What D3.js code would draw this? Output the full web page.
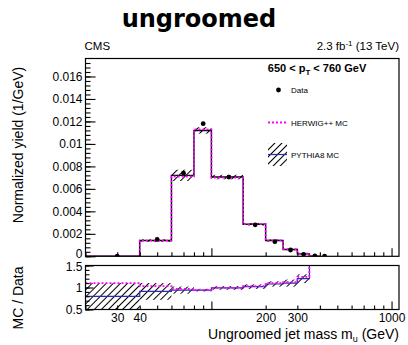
<!DOCTYPE html>
<html>
<head>
<meta charset="utf-8">
<script src="https://cdn.jsdelivr.net/npm/d3@7"></script>
<style>
  body { margin: 0; background: #fff; }
  text { font-family: "Liberation Sans", Arial, sans-serif; }
</style>
</head>
<body>
<div id="chart"></div>
<script>
// bin edges (GeV)
const binEdges = [20, 40, 60, 80, 100, 150, 200, 250, 300, 350, 400, 450];
// normalized yield, data points per bin
const dataYield = [0.00001, 0.0015, 0.0074, 0.0118, 0.00705, 0.0028, 0.0013, 0.00056, 0.00018, 0.00003, 0.00001];
const dataErr   = [0, 0.00005, 0.0001, 0.00012, 0.00008, 0.00005, 0.00004, 0.00003, 0.00002, 0.00001, 0];
// MC histograms (bins 20..350)
const herwigYield = [0, 0.00139, 0.0071, 0.0113, 0.0070, 0.00287, 0.00142, 0.00063, 0.00024];
const pythiaYield = [0, 0.0014, 0.0072, 0.0112, 0.00705, 0.00285, 0.0014, 0.0006, 0.00022];
const pythiaErr   = [0, 0.00012, 0.0005, 0.00028, 0.0002, 0.00012, 0.0001, 0.00006, 0.00004];
// MC / Data ratios
const herwigRatio    = [1.10, 1.03, 0.97, 0.94, 0.99, 1.03, 1.10, 1.12, 1.24];
const pythiaRatio    = [0.80, 0.91, 0.94, 0.94, 0.99, 1.02, 1.08, 1.10, 1.20];
const pythiaRatioErr = [0.30, 0.19, 0.08, 0.03, 0.04, 0.05, 0.06, 0.08, 0.10];
// ticks
const yTicks = [0, 0.002, 0.004, 0.006, 0.008, 0.01, 0.012, 0.014, 0.016];
const ratioTicks = [0.5, 1, 1.5];
const xLabelTicks = [30, 40, 200, 300, 1000];

const width = 408, height = 345;
const left = 85.5, right = 399;
const mainTop = 58.5, mainBottom = 256.3;
const ratioTop = 265.5, ratioBottom = 309.5;

const svg = d3.select("#chart").append("svg")
    .attr("width", width)
    .attr("height", height);

const defs = svg.append("defs");
const pat = defs.append("pattern")
    .attr("id", "hatch")
    .attr("patternUnits", "userSpaceOnUse")
    .attr("width", 5).attr("height", 5)
    .attr("patternTransform", "rotate(45)");
pat.append("line")
    .attr("x1", 0.5).attr("y1", 0).attr("x2", 0.5).attr("y2", 5)
    .attr("stroke", "#000").attr("stroke-width", 1);

defs.append("clipPath").attr("id", "clipMain").append("rect")
    .attr("x", left).attr("y", mainTop).attr("width", right - left).attr("height", mainBottom - mainTop);
defs.append("clipPath").attr("id", "clipRatio").append("rect")
    .attr("x", left).attr("y", ratioTop).attr("width", right - left).attr("height", ratioBottom - ratioTop);

const x = d3.scaleLog().domain([20, 1100]).range([left, right]);
const y = d3.scaleLinear().domain([0, 0.0176]).range([mainBottom, mainTop]);
const yr = d3.scaleLinear().domain([0.5, 1.5]).range([ratioBottom, ratioTop]);

function stepPath(vals, ys) {
  let p = "";
  vals.forEach((v, i) => {
    const x0 = x(binEdges[i]), x1 = x(binEdges[i + 1]);
    p += (i === 0 ? "M" : "L") + x0 + "," + ys(v) + "L" + x1 + "," + ys(v);
  });
  return p;
}

// ---------- main pad ----------
const gMain = svg.append("g").attr("clip-path", "url(#clipMain)");

gMain.selectAll("rect.band")
  .data(pythiaYield)
  .enter().append("rect")
    .attr("x", (d, i) => x(binEdges[i]))
    .attr("width", (d, i) => x(binEdges[i + 1]) - x(binEdges[i]))
    .attr("y", (d, i) => y(d + pythiaErr[i]))
    .attr("height", (d, i) => y(d - pythiaErr[i]) - y(d + pythiaErr[i]))
    .attr("fill", "url(#hatch)");

gMain.append("path")
    .attr("d", stepPath(pythiaYield.concat([0]), y))
    .attr("fill", "none").attr("stroke", "#000").attr("stroke-width", 1.4);

gMain.append("path")
    .attr("d", stepPath(herwigYield.concat([0]), y))
    .attr("fill", "none").attr("stroke", "#ff00ff").attr("stroke-width", 1.8)
    .attr("stroke-dasharray", "2,2");

const pts = gMain.selectAll("g.pt")
  .data(dataYield)
  .enter().append("g");
pts.append("line")
    .attr("x1", (d, i) => x((binEdges[i] + binEdges[i + 1]) / 2))
    .attr("x2", (d, i) => x((binEdges[i] + binEdges[i + 1]) / 2))
    .attr("y1", (d, i) => y(d - dataErr[i]))
    .attr("y2", (d, i) => y(d + dataErr[i]))
    .attr("stroke", "#000").attr("stroke-width", 1);
pts.append("circle")
    .attr("cx", (d, i) => x((binEdges[i] + binEdges[i + 1]) / 2))
    .attr("cy", d => y(d))
    .attr("r", 2.4)
    .attr("fill", "#000");

// ---------- ratio pad ----------
const gRatio = svg.append("g").attr("clip-path", "url(#clipRatio)");
gRatio.selectAll("rect.band")
  .data(pythiaRatio)
  .enter().append("rect")
    .attr("x", (d, i) => x(binEdges[i]))
    .attr("width", (d, i) => x(binEdges[i + 1]) - x(binEdges[i]))
    .attr("y", (d, i) => yr(d + pythiaRatioErr[i]))
    .attr("height", (d, i) => yr(d - pythiaRatioErr[i]) - yr(d + pythiaRatioErr[i]))
    .attr("fill", "url(#hatch)");
gRatio.append("path")
    .attr("d", stepPath(pythiaRatio, yr) + "L" + x(350) + "," + yr(1.6))
    .attr("fill", "none").attr("stroke", "#2b2bb0").attr("stroke-width", 1.2);
gRatio.append("path")
    .attr("d", stepPath(herwigRatio, yr) + "L" + x(350) + "," + yr(1.6))
    .attr("fill", "none").attr("stroke", "#ff00ff").attr("stroke-width", 1.8)
    .attr("stroke-dasharray", "2,2");

// ---------- frames and axes ----------
function frame(t, b) {
  svg.append("rect").attr("x", left).attr("y", t).attr("width", right - left).attr("height", b - t)
    .attr("fill", "none").attr("stroke", "#000").attr("stroke-width", 1.2);
}
frame(mainTop, mainBottom);
frame(ratioTop, ratioBottom);

const minorX = [];
[10, 100].forEach(dec => { for (let k = 2; k <= 9; k++) if (dec * k >= 20) minorX.push(dec * k); });

function xAxes(yPos, labels) {
  svg.append("g").attr("transform", `translate(0,${yPos})`)
    .call(d3.axisBottom(x).tickValues(minorX).tickSizeInner(-4).tickSizeOuter(0).tickFormat(""))
    .call(g => g.select(".domain").remove());
  svg.append("g").attr("transform", `translate(0,${yPos})`)
    .call(d3.axisBottom(x).tickValues([100, 1000]).tickSizeInner(-8).tickSizeOuter(0).tickFormat(""))
    .call(g => g.select(".domain").remove());
  if (labels) {
    svg.append("g").attr("transform", `translate(0,${yPos})`)
      .call(d3.axisBottom(x).tickValues(xLabelTicks).tickSize(0).tickPadding(4).tickFormat(d3.format("d")))
      .call(g => g.select(".domain").remove())
      .call(g => g.selectAll("text").attr("font-size", 12).attr("fill", "#000")
        .attr("font-family", "Liberation Sans, Arial, sans-serif"));
  }
}
xAxes(mainBottom, false);
xAxes(ratioBottom, true);

// main y axis
svg.append("g").attr("transform", `translate(${left},0)`)
  .call(d3.axisLeft(y).tickValues(d3.range(0, 0.0176, 0.0004)).tickSizeInner(-5).tickSizeOuter(0).tickFormat(""))
  .call(g => g.select(".domain").remove());
svg.append("g").attr("transform", `translate(${left},0)`)
  .call(d3.axisLeft(y).tickValues(yTicks).tickSizeInner(-10).tickSizeOuter(0).tickPadding(3)
    .tickFormat(d => d === 0 ? "0" : d3.format(".3~f")(d)))
  .call(g => g.select(".domain").remove())
  .call(g => g.selectAll("text").attr("font-size", 12).attr("fill", "#000")
    .attr("font-family", "Liberation Sans, Arial, sans-serif"))
  .call(g => g.selectAll(".tick").filter(d => d === 0).select("text").attr("dy", "0.1em"));

// ratio y axis
svg.append("g").attr("transform", `translate(${left},0)`)
  .call(d3.axisLeft(yr).tickValues(d3.range(0.5, 1.51, 0.1)).tickSizeInner(-4).tickSizeOuter(0).tickFormat(""))
  .call(g => g.select(".domain").remove());
svg.append("g").attr("transform", `translate(${left},0)`)
  .call(d3.axisLeft(yr).tickValues(ratioTicks).tickSizeInner(-8).tickSizeOuter(0).tickPadding(3)
    .tickFormat(d3.format("~g")))
  .call(g => g.select(".domain").remove())
  .call(g => g.selectAll("text").attr("font-size", 12).attr("fill", "#000")
    .attr("font-family", "Liberation Sans, Arial, sans-serif"))
  .call(g => g.selectAll(".tick").filter(d => d === 1.5).select("text").attr("dy", "0.45em"));
svg.selectAll(".tick line").attr("stroke", "#000").attr("stroke-width", 1.1);

// ---------- texts ----------
svg.append("text").attr("x", 199).attr("y", 27).attr("text-anchor", "middle")
  .style("font-family", "'DejaVu Sans', sans-serif").attr("font-weight", "bold").attr("font-size", 24)
  .text("ungroomed");
svg.append("text").attr("x", left - 1).attr("y", 50).attr("font-size", 11.5).text("CMS");
const lumi = svg.append("text").attr("x", right).attr("y", 50).attr("text-anchor", "end").attr("font-size", 11.5);
lumi.append("tspan").text("2.3 fb");
lumi.append("tspan").attr("dy", -4).attr("font-size", 8).text("-1");
lumi.append("tspan").attr("dy", 4).text(" (13 TeV)");

const pt = svg.append("text").attr("x", 317).attr("y", 72).attr("text-anchor", "middle")
  .attr("font-size", 11).attr("font-weight", "bold");
pt.append("tspan").text("650 < p");
pt.append("tspan").attr("dy", 3).attr("font-size", 8).text("T");
pt.append("tspan").attr("dy", -3).text(" < 760 GeV");

// legend
svg.append("circle").attr("cx", 278.5).attr("cy", 90).attr("r", 2.4).attr("fill", "#000");
svg.append("text").attr("x", 291).attr("y", 93).attr("font-size", 8).text("Data");
svg.append("line").attr("x1", 268).attr("x2", 287).attr("y1", 122.5).attr("y2", 122.5)
  .attr("stroke", "#ff00ff").attr("stroke-width", 1.8).attr("stroke-dasharray", "2,2");
svg.append("text").attr("x", 291).attr("y", 125.5).attr("font-size", 8).text("HERWIG++ MC");
svg.append("rect").attr("x", 268).attr("y", 143).attr("width", 19).attr("height", 23).attr("fill", "url(#hatch)");
svg.append("line").attr("x1", 268).attr("x2", 287).attr("y1", 154.5).attr("y2", 154.5)
  .attr("stroke", "#2b2bb0").attr("stroke-width", 1.2);
svg.append("text").attr("x", 291).attr("y", 157.5).attr("font-size", 8).text("PYTHIA8 MC");

// axis titles
svg.append("text").attr("transform", "translate(23,145) rotate(-90)").attr("text-anchor", "middle")
  .attr("font-size", 14).text("Normalized yield (1/GeV)");
svg.append("text").attr("transform", "translate(23,298) rotate(-90)").attr("text-anchor", "middle")
  .attr("font-size", 14).text("MC / Data");
const xt = svg.append("text").attr("x", right).attr("y", 339).attr("text-anchor", "end").attr("font-size", 14);
xt.append("tspan").text("Ungroomed jet mass m");
xt.append("tspan").attr("dy", 3).attr("font-size", 9).text("u");
xt.append("tspan").attr("dy", -3).text(" (GeV)");
</script>
</body>
</html>
